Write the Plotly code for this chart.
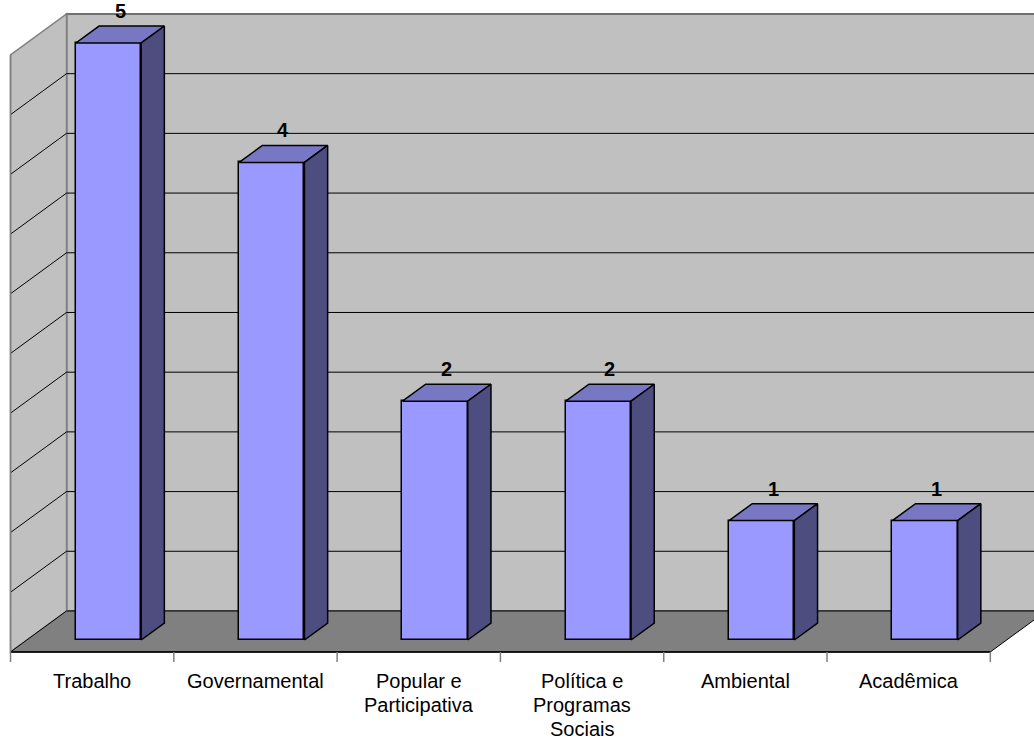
import plotly.graph_objects as go

categories = ["Trabalho", "Governamental", "Popular e\nParticipativa",
              "Política e\nProgramas\nSociais", "Ambiental", "Acadêmica"]
values = [5, 4, 2, 2, 1, 1]
y_max = 5
grid_step = 0.5

# styling / geometry constants
FRONT_COLOR = "#9999FF"
TOP_COLOR = "#7777C4"
SIDE_COLOR = "#4D4D80"
WALL_COLOR = "#C0C0C0"
FLOOR_COLOR = "#808080"
BAR_W = 0.4          # bar width in category units
BAR_D = 0.142        # bar depth offset (data units)
FRONT_OFF = -0.1     # floor front edge offset from bar front plane
BACK_OFF = 0.243     # back wall offset from bar front plane
FONT = "Liberation Sans, Arial, sans-serif"

n = len(categories)
idx = list(range(n))

fig = go.Figure()

# front faces of bars
fig.add_trace(go.Bar(
    x=idx, y=values, width=BAR_W, base=0,
    marker=dict(color=FRONT_COLOR, line=dict(color="black", width=1.5)),
    hoverinfo="skip", showlegend=False))

# top and side faces
for i, v in zip(idx, values):
    l, r = i - BAR_W / 2, i + BAR_W / 2
    fig.add_trace(go.Scatter(
        x=[l, r, r + BAR_D, l + BAR_D, l], y=[v, v, v + BAR_D, v + BAR_D, v],
        mode="lines", fill="toself", fillcolor=TOP_COLOR,
        line=dict(color="black", width=1.5), hoverinfo="skip", showlegend=False))
    fig.add_trace(go.Scatter(
        x=[r, r + BAR_D, r + BAR_D, r, r], y=[0, BAR_D, v + BAR_D, v, 0],
        mode="lines", fill="toself", fillcolor=SIDE_COLOR,
        line=dict(color="black", width=1.5), hoverinfo="skip", showlegend=False))

shapes = []
x_lo, x_hi = -0.5, n - 0.5
# back wall
shapes.append(dict(type="rect", xref="x", yref="y", layer="below",
                   x0=x_lo + BACK_OFF, x1=x_hi + BACK_OFF,
                   y0=0 + BACK_OFF, y1=y_max + BACK_OFF,
                   fillcolor=WALL_COLOR, line=dict(color="#707070", width=2)))
# left wall
fx, bx = x_lo + FRONT_OFF, x_lo + BACK_OFF
shapes.append(dict(type="path", xref="x", yref="y", layer="below",
                   path=f"M{fx},{FRONT_OFF} L{bx},{BACK_OFF} L{bx},{y_max + BACK_OFF} L{fx},{y_max + FRONT_OFF} Z",
                   fillcolor=WALL_COLOR, line=dict(color="#808080", width=1.5)))
# floor
shapes.append(dict(type="path", xref="x", yref="y", layer="below",
                   path=(f"M{x_lo + FRONT_OFF},{FRONT_OFF} L{x_hi + FRONT_OFF},{FRONT_OFF} "
                         f"L{x_hi + BACK_OFF},{BACK_OFF} L{x_lo + BACK_OFF},{BACK_OFF} Z"),
                   fillcolor=FLOOR_COLOR, line=dict(color="black", width=1)))
# gridlines
k = 1
while k * grid_step < y_max - 1e-9:
    g = k * grid_step
    shapes.append(dict(type="line", xref="x", yref="y", layer="below",
                       x0=x_lo + BACK_OFF, x1=x_hi + BACK_OFF, y0=g + BACK_OFF, y1=g + BACK_OFF,
                       line=dict(color="black", width=1)))
    shapes.append(dict(type="line", xref="x", yref="y", layer="below",
                       x0=x_lo + FRONT_OFF, x1=x_lo + BACK_OFF, y0=g + FRONT_OFF, y1=g + BACK_OFF,
                       line=dict(color="black", width=1)))
    k += 1
# front axis line
shapes.append(dict(type="line", xref="x", yref="y", layer="below",
                   x0=x_lo + FRONT_OFF, x1=x_hi + FRONT_OFF, y0=FRONT_OFF, y1=FRONT_OFF,
                   line=dict(color="black", width=1.5)))
shapes.append(dict(type="line", xref="x", yref="y", layer="below",
                   x0=x_lo + FRONT_OFF, x1=x_lo + FRONT_OFF, y0=FRONT_OFF, y1=y_max + FRONT_OFF,
                   line=dict(color="#808080", width=1.5)))
# tick marks at category boundaries
for b in range(n + 1):
    xb = x_lo + b + FRONT_OFF
    shapes.append(dict(type="line", xref="x", yref="y", layer="below",
                       x0=xb, x1=xb, y0=FRONT_OFF, y1=FRONT_OFF - 0.085,
                       line=dict(color="#808080", width=1.5)))

annotations = []
# value labels
for i, v in zip(idx, values):
    annotations.append(dict(x=i + BAR_D / 2, y=v + BAR_D, xref="x", yref="y",
                            text=f"<b>{v}</b>", showarrow=False, yanchor="bottom",
                            yshift=2, font=dict(family=FONT, size=20, color="black")))
# category labels, one annotation per line
H = 740
for i, c in zip(idx, categories):
    for j, line in enumerate(c.split("\n")):
        py = 681 + 24 * j
        annotations.append(dict(x=i + FRONT_OFF, y=1 - py / H, xref="x", yref="paper",
                                text=line, showarrow=False, yanchor="middle", xanchor="center",
                                font=dict(family=FONT, size=20, color="black")))

fig.update_layout(
    width=1034, height=740,
    margin=dict(l=0, r=0, t=0, b=0),
    paper_bgcolor="white", plot_bgcolor="white",
    xaxis=dict(range=[-0.6644, 5.6675], visible=False, fixedrange=True),
    yaxis=dict(range=[-0.8375, 5.360], visible=False, fixedrange=True),
    shapes=shapes, annotations=annotations,
    showlegend=False, bargap=0,
)

fig.write_html("out.html")
